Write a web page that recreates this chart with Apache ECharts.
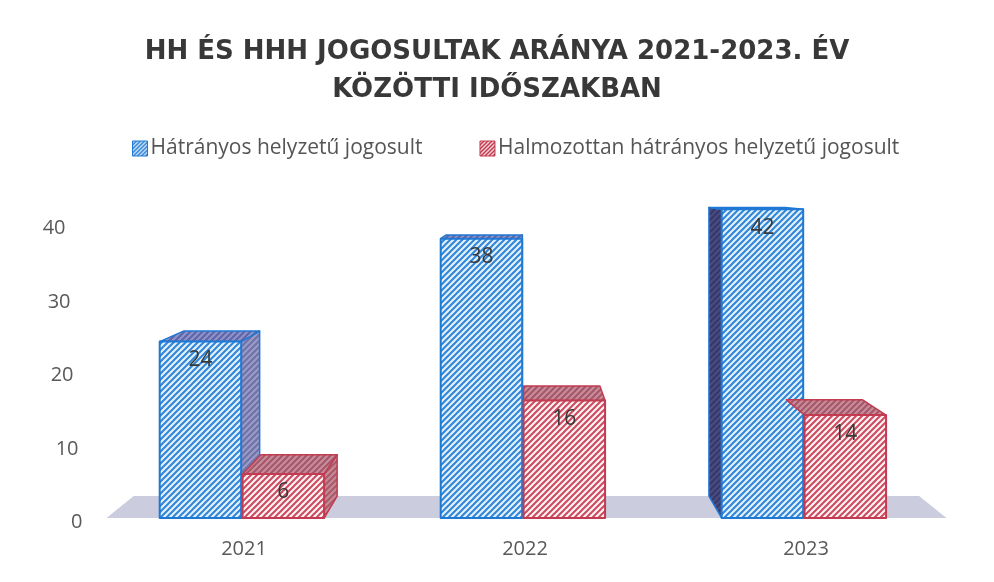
<!DOCTYPE html>
<html>
<head>
<meta charset="utf-8">
<script src="https://cdn.jsdelivr.net/npm/echarts@6/dist/echarts.min.js"></script>
<style>
  html, body { margin: 0; padding: 0; background: #fff; }
  #chart { width: 994px; height: 582px; }
</style>
</head>
<body>
<div id="chart"></div>
<script>
// chart data
const years = ['2021', '2022', '2023'];
const hhValues = [24, 38, 42];
const hhhValues = [6, 16, 14];
const yTicks = [0, 10, 20, 30, 40];
const seriesNames = ['Hátrányos helyzetű jogosult', 'Halmozottan hátrányos helyzetű jogosult'];

// diagonal hatch made on a small canvas
function hatch(bg, line, size, width) {
  const c = document.createElement('canvas');
  c.width = size;
  c.height = size;
  const ctx = c.getContext('2d');
  ctx.fillStyle = bg;
  ctx.fillRect(0, 0, size, size);
  ctx.strokeStyle = line;
  ctx.lineWidth = width;
  ctx.beginPath();
  ctx.moveTo(-1, 1); ctx.lineTo(1, -1);
  ctx.moveTo(0, size); ctx.lineTo(size, 0);
  ctx.moveTo(size - 1, size + 1); ctx.lineTo(size + 1, size - 1);
  ctx.stroke();
  return { image: c, repeat: 'repeat' };
}

const styles = [
  {
    border: '#1f78d4',
    front: hatch('#e2f0fb', '#2f86d8', 6, 2),
    top: hatch('#8f93c8', '#5d65a8', 6, 2),
    sideRight: hatch('#9a9bc6', '#6f72a8', 6, 2),
    sideLeft: hatch('#4a4c80', '#36386a', 6, 2),
    legend: hatch('#e2f0fb', '#1f78d4', 4, 1.5)
  },
  {
    border: '#c23b50',
    front: hatch('#fdf1f3', '#cc4a5e', 6, 2),
    top: hatch('#c98c99', '#a4566a', 6, 2),
    sideRight: hatch('#c88894', '#a65a6a', 6, 2),
    sideLeft: hatch('#a05060', '#80404e', 6, 2),
    legend: hatch('#f4d6db', '#c23b50', 4, 1.5)
  }
];

const depth = 0.065;

function toBack(p, vp) {
  return [p[0] + depth * (vp[0] - p[0]), p[1] + depth * (vp[1] - p[1])];
}

function makeBox(seriesIdx) {
  return function (params, api) {
    const cat = api.value(0);
    const val = api.value(1);
    const band = api.size([1, 0])[0];
    const cx = api.coord([cat, 0])[0];
    const y0 = api.coord([cat, 0])[1];
    const y1 = api.coord([cat, val])[1];
    const vp = [api.coord([1, 0])[0], api.coord([0, 46])[1]];
    const st = styles[seriesIdx];
    const w = band * 0.29;
    const x0 = seriesIdx === 0 ? cx - band * 0.3 : cx - band * 0.005;
    const x1 = x0 + w;

    const ftl = [x0, y1], ftr = [x1, y1], fbl = [x0, y0], fbr = [x1, y0];
    const btl = toBack(ftl, vp), btr = toBack(ftr, vp);
    const bbl = toBack(fbl, vp), bbr = toBack(fbr, vp);
    const children = [];
    const lineStyle = { stroke: st.border, lineWidth: 1.5, lineJoin: 'round' };

    if (vp[0] > x1) {
      children.push({ type: 'polygon', shape: { points: [ftr, fbr, bbr, btr] },
        style: Object.assign({ fill: st.sideRight }, lineStyle) });
    } else if (vp[0] < x0 && seriesIdx === 0) {
      children.push({ type: 'polygon', shape: { points: [ftl, fbl, bbl, btl] },
        style: Object.assign({ fill: st.sideLeft }, lineStyle) });
    }
    children.push({ type: 'polygon', shape: { points: [ftl, ftr, btr, btl] },
      style: Object.assign({ fill: st.top }, lineStyle) });
    children.push({ type: 'rect', shape: { x: x0, y: y1, width: w, height: y0 - y1 },
      style: Object.assign({ fill: st.front }, lineStyle, { lineWidth: 2 }) });
    children.push({ type: 'text', style: {
      text: String(val), x: (x0 + x1) / 2, y: y1 + 8, align: 'center', verticalAlign: 'top',
      fill: '#383838', font: '21px "Open Sans", sans-serif' } });
    return { type: 'group', children: children };
  };
}

function renderFloor(params, api) {
  const band = api.size([1, 0])[0];
  const left = api.coord([0, 0])[0] - band / 2;
  const right = api.coord([2, 0])[0] + band / 2;
  const y0 = api.coord([0, 0])[1];
  const vp = [api.coord([1, 0])[0], api.coord([0, 46])[1]];
  const fl = [left + 3, y0], fr = [right, y0];
  return {
    type: 'polygon',
    shape: { points: [fl, fr, toBack(fr, vp), toBack(fl, vp)] },
    style: { fill: '#cbcddf' }
  };
}

// tick labels lean with the perspective, so each one gets its own right padding
const tickPad = { 0: 0, 10: 4, 20: 9, 30: 12, 40: 17 };
const tickRich = {};
yTicks.forEach(function (t) {
  tickRich['t' + t] = { fontSize: 20, color: '#595959', padding: [9, tickPad[t], 0, 0] };
});

const chart = echarts.init(document.getElementById('chart'));
chart.setOption({
  backgroundColor: '#ffffff',
  animation: false,
  textStyle: { fontFamily: '"Open Sans", sans-serif' },
  title: {
    text: 'HH ÉS HHH JOGOSULTAK ARÁNYA 2021-2023. ÉV\nKÖZÖTTI IDŐSZAKBAN',
    left: 'center',
    top: 28,
    textStyle: {
      fontFamily: '"DejaVu Sans", sans-serif',
      fontSize: 26,
      fontWeight: 'bold',
      color: '#383838',
      lineHeight: 38
    }
  },
  legend: {
    top: 133,
    left: 127,
    itemGap: 57,
    itemWidth: 15,
    itemHeight: 15,
    textStyle: { fontSize: 21, color: '#555555', padding: [0, 0, 0, -2] },
    data: [
      { name: seriesNames[0], icon: 'rect', itemStyle: { color: styles[0].legend, borderColor: styles[0].border, borderWidth: 1 } },
      { name: seriesNames[1], icon: 'rect', itemStyle: { color: styles[1].legend, borderColor: styles[1].border, borderWidth: 1 } }
    ]
  },
  grid: { left: 103.5, right: 47.5, top: 150.5, bottom: 64 },
  xAxis: {
    type: 'category',
    data: years,
    axisLine: { show: false },
    axisTick: { show: false },
    axisLabel: { fontSize: 20, color: '#595959', margin: 21 }
  },
  yAxis: {
    type: 'value',
    min: 0,
    max: 50,
    interval: 10,
    splitLine: { show: false },
    axisLine: { show: false },
    axisTick: { show: false },
    axisLabel: {
      margin: 21,
      showMaxLabel: false,
      formatter: function (v) { return yTicks.indexOf(v) >= 0 ? '{t' + v + '|' + v + '}' : ''; },
      rich: tickRich
    }
  },
  series: [
    {
      name: 'floor',
      type: 'custom',
      silent: true,
      z: 1,
      data: [[0, 0]],
      renderItem: renderFloor
    },
    {
      name: seriesNames[0],
      type: 'custom',
      z: 2,
      itemStyle: { color: styles[0].border },
      data: hhValues.map(function (v, i) { return [i, v]; }),
      encode: { x: 0, y: 1 },
      renderItem: makeBox(0)
    },
    {
      name: seriesNames[1],
      type: 'custom',
      z: 3,
      itemStyle: { color: styles[1].border },
      data: hhhValues.map(function (v, i) { return [i, v]; }),
      encode: { x: 0, y: 1 },
      renderItem: makeBox(1)
    }
  ]
});
</script>
</body>
</html>
